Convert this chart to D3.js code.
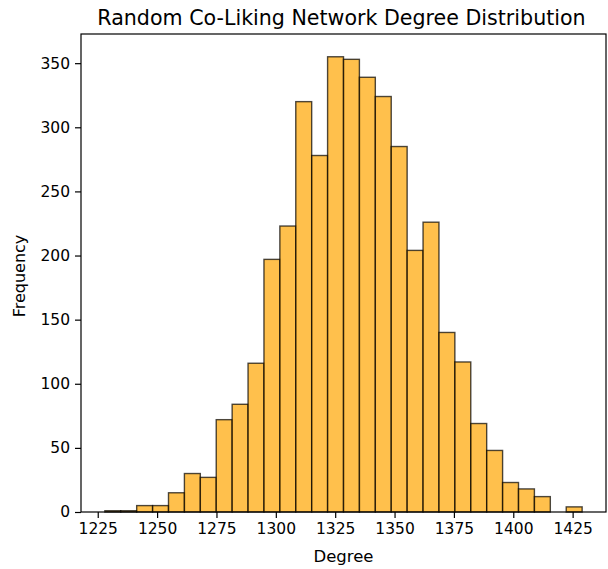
<!DOCTYPE html>
<html lang="en">
<head>
<meta charset="utf-8">
<script src="https://d3js.org/d3.v7.min.js"></script>
<style>
  body { margin: 0; background: #fff; }
  svg text { font-family: "DejaVu Sans", sans-serif; fill: #000; }
</style>
</head>
<body>
<div id="chart"></div>
<script>
// histogram counts (30 bins)
var counts = [1, 1, 5, 5, 15, 30, 27, 72, 84, 116,
              197, 223, 320, 278, 355, 353, 339, 324, 285, 204,
              226, 140, 117, 69, 48, 23, 18, 12, 0, 4];
var degreeMin = 1228;
var degreeMax = 1429;
var xTicks = [1225, 1250, 1275, 1300, 1325, 1350, 1375, 1400, 1425];
var yTicks = [0, 50, 100, 150, 200, 250, 300, 350];
var title = "Random Co-Liking Network Degree Distribution";

var width = 608, height = 569;
var margin = {left: 81, right: 2, top: 34, bottom: 57};

var svg = d3.select("#chart").append("svg")
    .attr("width", width)
    .attr("height", height);

var binW = (degreeMax - degreeMin) / counts.length;
var bins = counts.map(function(c, i) {
    return {x0: degreeMin + i * binW, x1: degreeMin + (i + 1) * binW, n: c};
});

// matplotlib style 5% padding
var pad = (degreeMax - degreeMin) * 0.05;
var xScale = d3.scaleLinear()
    .domain([degreeMin - pad, degreeMax + pad])
    .range([margin.left, width - margin.right]);
var yScale = d3.scaleLinear()
    .domain([0, d3.max(counts) * 1.05])
    .range([height - margin.bottom, margin.top]);

// bars
svg.append("g").selectAll("rect")
    .data(bins)
    .enter().append("rect")
    .attr("x", function(d) { return xScale(d.x0); })
    .attr("y", function(d) { return yScale(d.n); })
    .attr("width", function(d) { return xScale(d.x1) - xScale(d.x0); })
    .attr("height", function(d) { return yScale(0) - yScale(d.n); })
    .attr("fill", "orange")
    .attr("fill-opacity", 0.7)
    .attr("stroke", "black")
    .attr("stroke-opacity", 0.7)
    .attr("stroke-width", 1.4);

// axes
var xAxis = d3.axisBottom(xScale).tickValues(xTicks).tickSize(6).tickPadding(5).tickFormat(d3.format("d"));
var yAxis = d3.axisLeft(yScale).tickValues(yTicks).tickSize(6).tickPadding(5);

var gx = svg.append("g")
    .attr("transform", "translate(0," + (height - margin.bottom) + ")")
    .call(xAxis);
var gy = svg.append("g")
    .attr("transform", "translate(" + margin.left + ",0)")
    .call(yAxis);

[gx, gy].forEach(function(g) {
    g.select(".domain").remove();
    g.selectAll(".tick line").attr("stroke", "#000").attr("stroke-width", 1.2);
    g.selectAll(".tick text").attr("font-size", "15.5px").attr("fill", "#000");
});

// frame
svg.append("rect")
    .attr("x", margin.left)
    .attr("y", margin.top)
    .attr("width", width - margin.right - margin.left)
    .attr("height", height - margin.bottom - margin.top)
    .attr("fill", "none")
    .attr("stroke", "#000")
    .attr("stroke-width", 1.2);

// labels
svg.append("text")
    .attr("x", 341.5)
    .attr("y", 25)
    .attr("text-anchor", "middle")
    .attr("font-size", "20.6px")
    .text(title);

svg.append("text")
    .attr("x", (margin.left + width - margin.right) / 2)
    .attr("y", 562)
    .attr("text-anchor", "middle")
    .attr("font-size", "16.5px")
    .text("Degree");

svg.append("text")
    .attr("transform", "translate(25," + 276 + ") rotate(-90)")
    .attr("text-anchor", "middle")
    .attr("font-size", "16px")
    .text("Frequency");
</script>
</body>
</html>
